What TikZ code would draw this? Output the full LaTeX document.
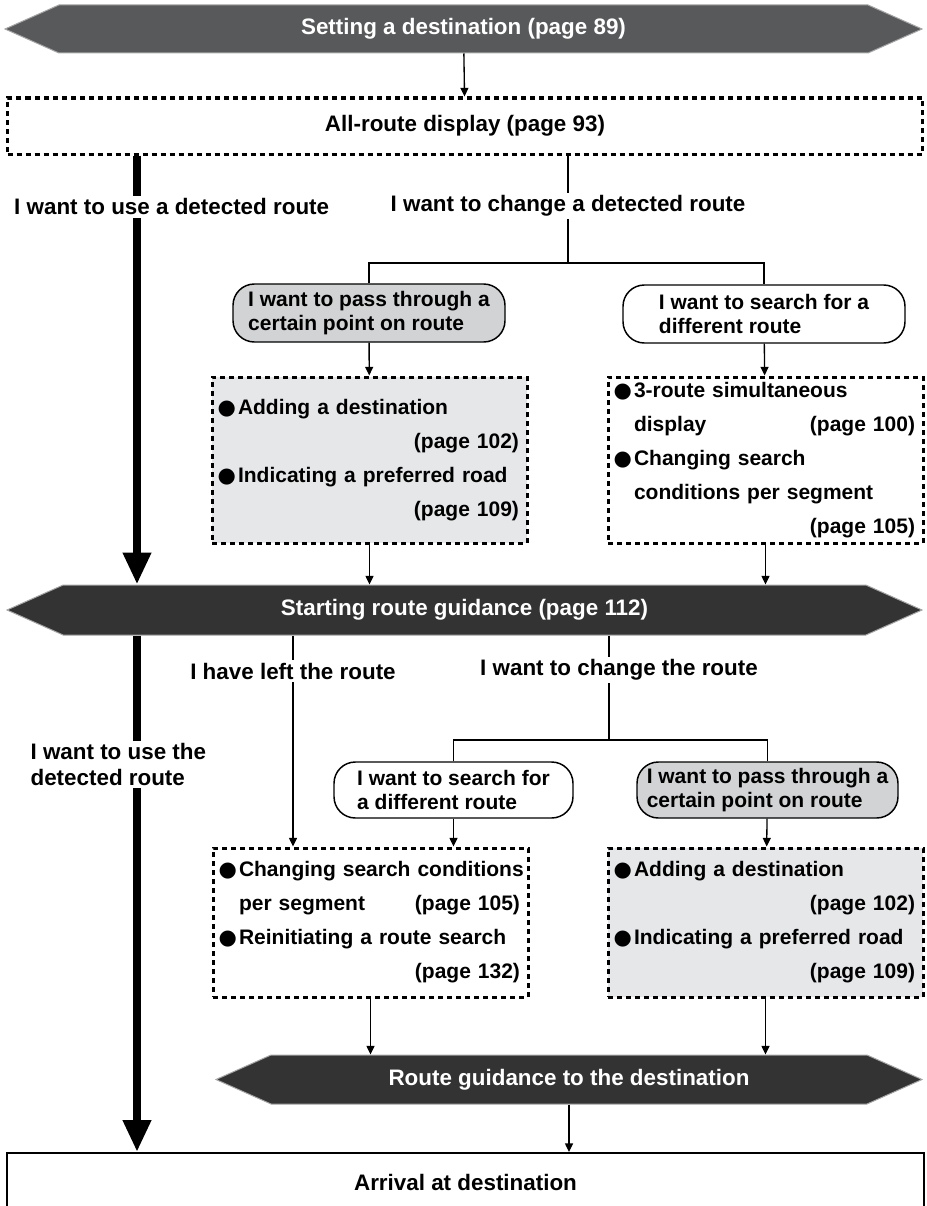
\documentclass[tikz,border=0pt]{standalone}
\usepackage{fontspec}
\setmainfont{Liberation Sans}
\newfontfamily\symfont{DejaVu Sans}
\usetikzlibrary{arrows.meta,shapes.symbols}
\definecolor{hexgray}{RGB}{88,89,91}
\definecolor{hexdark}{RGB}{51,51,51}
\definecolor{pillgray}{RGB}{209,211,212}
\definecolor{boxgray}{RGB}{230,231,232}
\newcommand{\itm}[1]{\leavevmode\llap{{\symfont ●}\hspace{1.5pt}}\mbox{#1}}
\newcommand{\pg}[1]{\mbox{}\hfill(page #1)}

\begin{document}
\begin{tikzpicture}[x=0.75pt,y=-0.75pt,
    font=\bfseries\fontsize{16.8}{19}\selectfont,
    hexa/.style={signal, signal to=west and east, signal pointer angle=48,
        fill=hexdark, draw=gray!70, line width=0.75pt, text=white,
        minimum height=37.5pt, inner sep=0pt},
    dotbox/.style={rectangle, draw, line width=2.25pt, dash pattern=on 3.75pt off 3pt,
        inner sep=0pt, minimum width=236.25pt},
    itembox/.style={dotbox, text width=224.25pt, align=left,
        font=\bfseries\fontsize{15.75}{25.5}\selectfont},
    pill/.style={rectangle, rounded corners=16pt, draw, line width=1.1pt, align=left,
        font=\bfseries\fontsize{15.75}{17.6}\selectfont},
    lbl/.style={fill=white, inner sep=2pt},
    thin/.style={line width=1pt},
    tip/.style={thin, -{Stealth[inset=0pt,width=6pt,length=6.5pt]}},
    bigtip/.style={line width=6pt, -{Stealth[inset=0pt,width=20pt,length=24pt]}}]
    \useasboundingbox (0,0) rectangle (927,1206);

    \node[hexa, fill=hexgray, minimum width=687.75pt, minimum height=36pt] (1) at (463.5,29) {Setting a destination (page 89)};
    \node[dotbox, minimum width=686.25pt, minimum height=42pt] (2) at (465,126) {All-route display (page 93)};
    \node[pill, fill=pillgray, minimum width=204pt, minimum height=43.5pt] (3) at (369,313) {I want to pass through a\\certain point on route};
    \node[pill, fill=white, minimum width=211.5pt, minimum height=43.5pt] (4) at (764,314) {I want to search for a\\different route};
    \node[itembox, fill=boxgray, minimum height=124.5pt] (5) at (369.5,460)
        {\leftskip=13.5pt \itm{Adding a destination}\\ \pg{102}\\ \itm{Indicating a preferred road}\\ \pg{109}};
    \node[itembox, minimum height=124.5pt] (6) at (765.5,460)
        {\leftskip=13.5pt \itm{3-route simultaneous}\\ display\hfill(page 100)\\ \itm{Changing search}\\ conditions per segment\\ \pg{105}};
    \node[hexa, minimum width=686.25pt] (7) at (464.5,610) {Starting route guidance (page 112)};
    \node[pill, fill=white, minimum width=179.25pt, minimum height=42pt] (8) at (453.5,790) {I want to search for\\a different route};
    \node[pill, fill=pillgray, minimum width=195.75pt, minimum height=42pt] (9) at (767.5,790) {I want to pass through a\\certain point on route};
    \node[itembox, minimum height=111.75pt] (10) at (370.5,922.5)
        {\leftskip=13.5pt \itm{Changing search conditions}\\ per segment\hfill(page 105)\\ \itm{Reinitiating a route search}\\ \pg{132}};
    \node[itembox, fill=boxgray, minimum height=111.75pt] (11) at (765.5,922.5)
        {\leftskip=13.5pt \itm{Adding a destination}\\ \pg{102}\\ \itm{Indicating a preferred road}\\ \pg{109}};
    \node[hexa, minimum width=529.5pt, minimum height=36.75pt] (12) at (569,1079.5) {Route guidance to the destination};
    \node[rectangle, draw, line width=1.5pt, minimum width=687.75pt, minimum height=43.5pt] (13) at (465.5,1182) {Arrival at destination};

    \coordinate (u) at (137,0);
    \coordinate (l) at (293,0);
    \coordinate (b1) at (568,263);
    \coordinate (b2) at (609,740);

    \path[tip] (1) edge (2);
    \path[bigtip] (2.south -| u) edge node[lbl, pos=.12, xshift=26pt] {I want to use a detected route} (7.north -| u);
    \path[bigtip] (7.south -| u) edge node[lbl, pos=.25, xshift=-14pt, align=left] {I want to use the\\detected route} (13.north -| u);

    \path[thin] (2.south -| b1) edge node[lbl, pos=.47] {I want to change a detected route} (b1);
    \draw[thin] (3.north) |- (b1) -| (4.north);
    \path[tip] (3) edge (5) (4) edge (6);
    \path[tip] (5.south) edge (5.south |- 7.north) (6.south) edge (6.south |- 7.north);

    \path[tip] (7.south -| l) edge node[lbl, pos=.17] {I have left the route} (10.north -| l);
    \path[thin] (7.south -| b2) edge node[lbl, pos=.33, xshift=7.5pt] {I want to change the route} (b2);
    \draw[thin] (8.north) |- (b2) -| (9.north);
    \path[tip] (8.south) edge (8.south |- 10.north) (9) edge (11);
    \path[tip] (10.south) edge (10.south |- 12.north) (11.south) edge (11.south |- 12.north);
    \path[tip] (12.south) edge (12.south |- 13.north);
\end{tikzpicture}
\end{document}
